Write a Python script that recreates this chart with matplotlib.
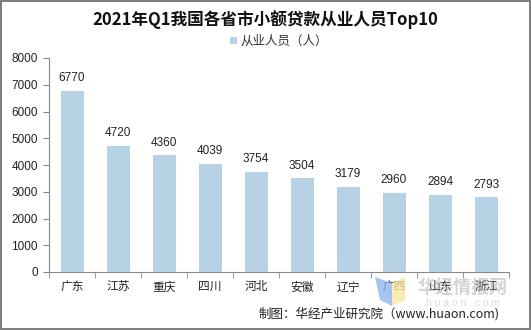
import matplotlib

matplotlib.use("Agg")
import matplotlib.pyplot as plt
from matplotlib.patches import Polygon

plt.rcParams["font.family"] = ["Noto Sans CJK SC", "DejaVu Sans"]

provinces = ["广东", "江苏", "重庆", "四川", "河北", "安徽", "辽宁", "广西", "山东", "浙江"]
staff = [6770, 4720, 4360, 4039, 3754, 3504, 3179, 2960, 2894, 2793]
y_ticks = [0, 1000, 2000, 3000, 4000, 5000, 6000, 7000, 8000]

BAR = "#B7D2E5"
TXT = "#222222"
LAT = ["Liberation Sans", "DejaVu Sans"]

fig = plt.figure(figsize=(5.31, 3.30), dpi=100)
fig.patch.set_edgecolor("#7f7f7f")
fig.patch.set_linewidth(1.5)

ax = fig.add_axes([49 / 531, 58 / 330, 460 / 531, 214 / 330])
x = range(len(provinces))
ax.bar(x, staff, width=0.5, color=BAR, label="从业人员（人）", zorder=2)
for xi, v in zip(x, staff):
    ax.text(xi, v + 250, str(v), ha="center", va="bottom", fontsize=8.5,
            family=LAT, color=TXT)

ax.set_xlim(-0.5, len(provinces) - 0.5)
ax.set_ylim(0, 8000)
ax.set_yticks(y_ticks)
ax.set_yticklabels([str(t) for t in y_ticks], fontsize=8.5, family=LAT, color=TXT)
ax.set_xticks(list(x))
ax.set_xticklabels(provinces, fontsize=8.5, color=TXT)
ax.tick_params(axis="x", length=0, pad=6)
ax.tick_params(axis="y", length=4, color="#888888", pad=4)
# séparateurs de catégories sur l'axe x
ax.set_xticks([i + 0.5 for i in range(-1, len(provinces))], minor=True)
ax.tick_params(axis="x", which="minor", length=4, color="#888888")
for s in ("top", "right"):
    ax.spines[s].set_visible(False)
for s in ("left", "bottom"):
    ax.spines[s].set_color("#888888")
    ax.spines[s].set_linewidth(0.8)

fig.text(0.5, 1 - 20 / 330, "2021年Q1我国各省市小额贷款从业人员Top10",
         ha="center", va="center", fontsize=12, fontweight="bold", color="#111111")
ax.legend(loc="upper center", bbox_to_anchor=(0.5, 1.16), frameon=False,
          fontsize=9, handlelength=0.5, handleheight=0.5, handletextpad=0.3,
          labelcolor="#333333")

# filigrane
fig.patches.append(Polygon([(375 / 531, 1 - 277 / 330), (392 / 531, 1 - 283 / 330),
                            (392 / 531, 1 - 306 / 330), (380 / 531, 1 - 300 / 330)],
                           closed=True, transform=fig.transFigure,
                           facecolor="#8fb4f0", edgecolor="none", alpha=0.8))
fig.patches.append(Polygon([(392 / 531, 1 - 283 / 330), (405 / 531, 1 - 277 / 330),
                            (405 / 531, 1 - 300 / 330), (392 / 531, 1 - 306 / 330)],
                           closed=True, transform=fig.transFigure,
                           facecolor="#f7e6a0", edgecolor="none", alpha=0.8))
fig.text(463 / 531, 1 - 288 / 330, "华经情报网", ha="center", va="center",
         fontsize=13, fontweight="bold", color="#aaaaaa", alpha=0.5)
fig.text(463 / 531, 1 - 303 / 330, "h u a o n . c o m", ha="center", va="center",
         fontsize=7.5, color="#bbbbbb", alpha=0.5, family=LAT)

fig.text(500 / 531, 1 - 314 / 330, "制图：华经产业研究院（www.huaon.com)",
         ha="right", va="center", fontsize=9, color=TXT)

fig.savefig("out.png", dpi=100)
